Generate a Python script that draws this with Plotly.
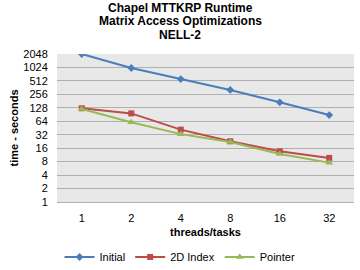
import plotly.graph_objects as go
import math

threads = ["1", "2", "4", "8", "16", "32"]
initial = [2048, 995, 564, 321, 170, 88]
index2d = [125, 96, 41.6, 22.8, 13.6, 9.7]
pointer = [121, 61, 33, 22, 11.9, 7.6]
yticks = [1, 2, 4, 8, 16, 32, 64, 128, 256, 512, 1024, 2048]
title_lines = ["Chapel MTTKRP Runtime", "Matrix Access Optimizations", "NELL-2"]

FONT = "Liberation Sans"
W, H = 360, 270
ML, MR, MT, MB = 57, 6, 54, 68
PH = H - MT - MB
PW = W - ML - MR

fig = go.Figure()
fig.add_trace(go.Scatter(x=threads, y=initial, name="Initial", mode="lines+markers",
                         line=dict(color="#4A7EBB", width=2),
                         marker=dict(symbol="diamond", size=6, color="#4A7EBB")))
fig.add_trace(go.Scatter(x=threads, y=index2d, name="2D Index", mode="lines+markers",
                         line=dict(color="#BE4B48", width=2),
                         marker=dict(symbol="square", size=6, color="#BE4B48")))
fig.add_trace(go.Scatter(x=threads, y=pointer, name="Pointer", mode="lines+markers",
                         line=dict(color="#98B954", width=2),
                         marker=dict(symbol="triangle-up", size=7, color="#98B954")))

# title lines as annotations centred on the full figure width
for i, line in enumerate(title_lines):
    py = 8 + 13.3 * i
    fig.add_annotation(text="<b>%s</b>" % line, xref="paper", yref="paper",
                       x=(W / 2 - ML) / PW, y=(H - MB - py) / PH,
                       xanchor="center", yanchor="middle", showarrow=False,
                       font=dict(family=FONT, size=12, color="#000000"))

fig.update_layout(
    width=W, height=H,
    margin=dict(l=ML, r=MR, t=MT, b=MB),
    paper_bgcolor="white", plot_bgcolor="#E8E8E8",
    font=dict(family=FONT, size=11, color="#000000"),
    showlegend=True,
    legend=dict(orientation="h", x=0.5, xanchor="center", xref="container",
                y=13 / H, yanchor="middle", yref="container",
                font=dict(size=11), itemwidth=30, tracegroupgap=0),
    xaxis=dict(type="category", range=[-0.5, 5.5], showgrid=False,
               showline=True, linecolor="#B0B0B0", ticks="outside", ticklen=6,
               tickcolor="rgba(0,0,0,0)",
               title=dict(text="<b>threads/tasks</b>", font=dict(size=11), standoff=5)),
    yaxis=dict(type="log", range=[0, math.log10(2048)],
               tickvals=yticks, ticktext=[str(v) for v in yticks],
               showgrid=True, gridcolor="#B0B0B0", gridwidth=1,
               zeroline=False, showline=False, ticks="outside", ticklen=6,
               tickcolor="rgba(0,0,0,0)",
               title=dict(text="<b>time - seconds</b>", font=dict(size=11), standoff=2)),
)

fig.write_html("out.html", config={"displayModeBar": False},
               post_script="document.body.style.margin='0';")
